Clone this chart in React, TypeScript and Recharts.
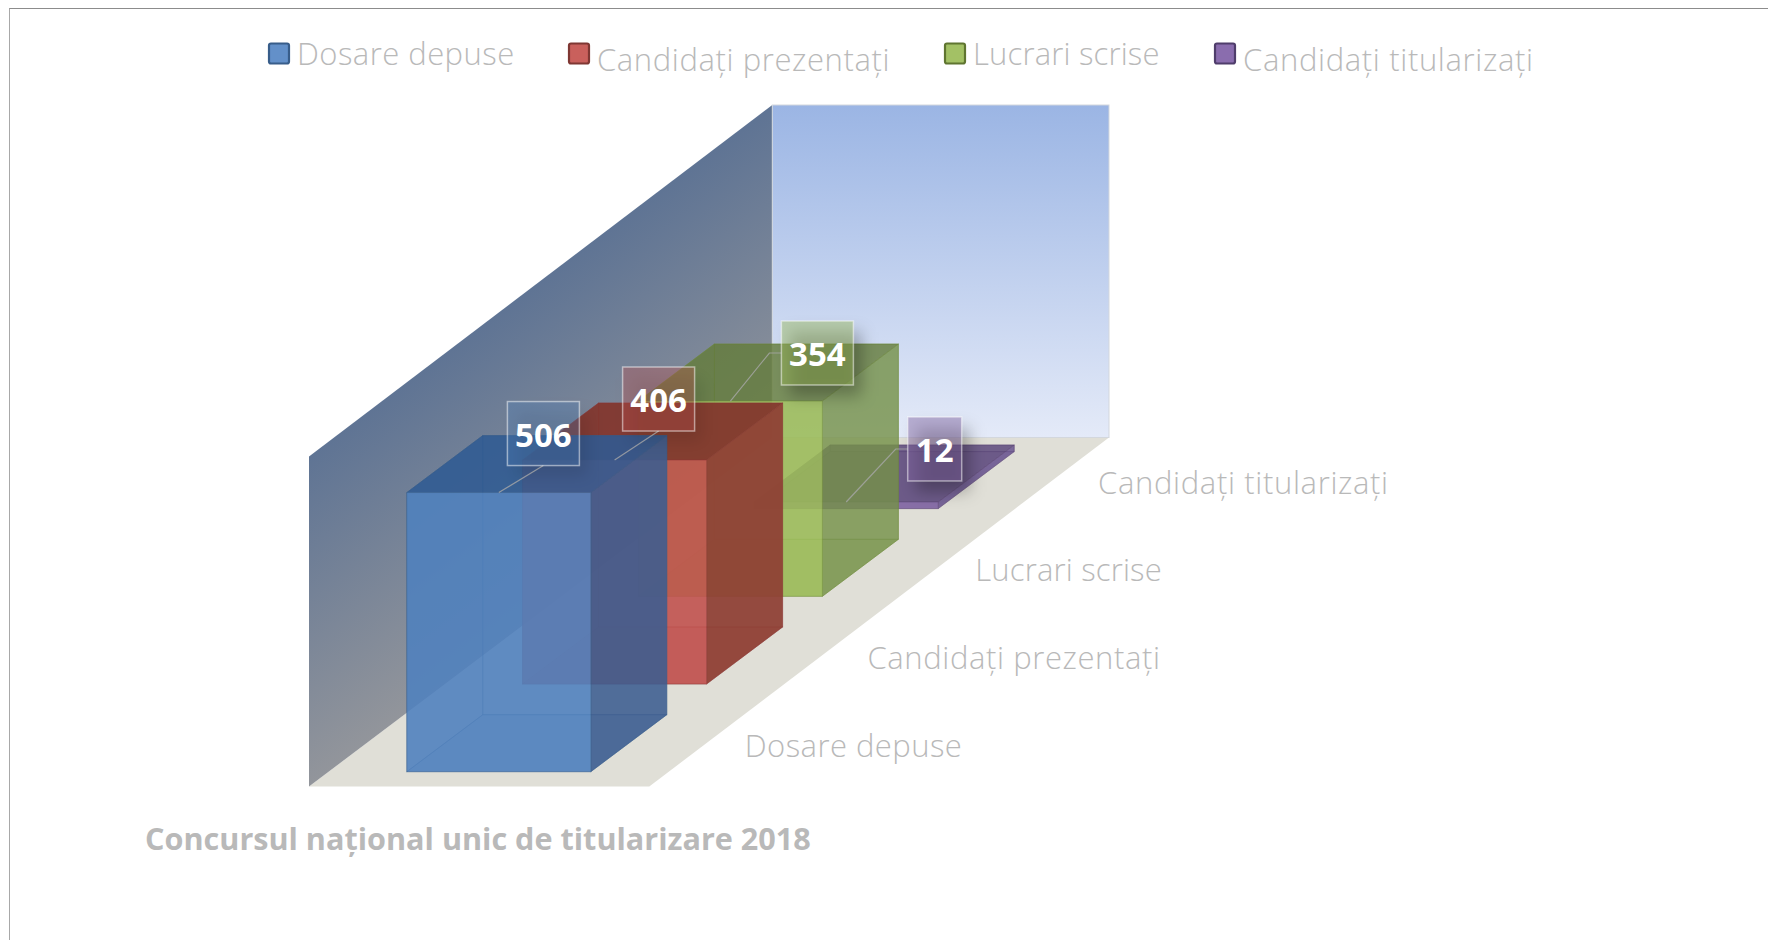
import React from "react";
import { BarChart, Bar, XAxis, YAxis, Legend, LabelList } from "recharts";

const categories = [
  "Dosare depuse",
  "Candidați prezentați",
  "Lucrari scrise",
  "Candidați titularizați",
];
const values = [506, 406, 354, 12];
const axisTitle = "Concursul național unic de titularizare 2018";

const frontColors = ["#4f81bd", "#c0504d", "#9bbb59", "#8064a2"];
const sideColors = ["#3b5c8f", "#8e3f34", "#738f48", "#65508c"];
const topColors = ["#2f5a92", "#82352c", "#627a38", "#574378"];
const edgeColors = ["#385d8a", "#8c3836", "#6f8a3a", "#5c4776"];
const swatchFill = ["#6390c9", "#c9605c", "#a3c165", "#8a6dae"];
const swatchStroke = ["#385d8a", "#7f3733", "#5f7530", "#4f3d6b"];
const labelFill = [
  "rgba(79,129,189,0.3)",
  "rgba(192,80,77,0.35)",
  "rgba(155,187,89,0.45)",
  "rgba(128,100,162,0.45)",
];
const sideAlpha = [0.86, 0.92, 0.78, 0.8];
const shadowAlpha = [0.1, 0.1, 0.28, 0.28];

const WIDTH = 1768;
const HEIGHT = 940;
const PLOT_LEFT = 440.8;
const PLOT_RIGHT = 904;
const PLOT_BOTTOM = 771.7;
const PLOT_TOP = 440.7;
const BOX_WIDTH = 184;
const DEPTH_X = 76;
const DEPTH_Y = 57;
const ROW_STEP_Y = 87.7;
const AXIS_HEIGHT = 30;
const FONT = '"Open Sans", sans-serif';
const TEXT_COLOR = "#b9b9b9";

// legend and label boxes are hand placed, like the office chart they come from
const LEGEND_X = [268, 568, 944, 1214];
const LEGEND_BASE = [65, 70.7, 65, 70.7];
const TEXT_SPACING = [0.45, 0.6, 0.17, 0.65];
const TICK_DX = [246, 253, 245, 252];
const LABEL_DX = [44.6, 44, 87, 88.5];
const LABEL_DY = [-59, -61, -48, -53];
const LABEL_W = [72, 72, 72, 54];
const LABEL_H = 64;

const tableData = categories
  .map((name, i) => ({ name, value: values[i] }))
  .reverse();

const pts = (list: number[][]) => list.map((p) => p.join(",")).join(" ");

function Box3D(props: any) {
  const i = categories.indexOf(props.payload.name);
  const cx = props.x + props.width / 2;
  const shift = i * ROW_STEP_Y;
  const x0 = cx - BOX_WIDTH / 2;
  const x1 = cx + BOX_WIDTH / 2;
  const y0 = props.y - shift;
  const y1 = props.y + props.height - shift;
  const dx = DEPTH_X;
  const dy = DEPTH_Y;
  const edge = { stroke: edgeColors[i], strokeWidth: 1, strokeOpacity: 0.4 };

  return (
    <g>
      <rect x={x0 + dx} y={y0 - dy} width={BOX_WIDTH} height={y1 - y0} fill={frontColors[i]} fillOpacity={0.14} {...edge} />
      <polygon points={pts([[x0, y0], [x0 + dx, y0 - dy], [x0 + dx, y1 - dy], [x0, y1]])} fill={frontColors[i]} fillOpacity={0.14} {...edge} />
      <polygon points={pts([[x0, y1], [x1, y1], [x1 + dx, y1 - dy], [x0 + dx, y1 - dy]])} fill={frontColors[i]} fillOpacity={0.35} {...edge} />
      <polygon points={pts([[x1, y0], [x1 + dx, y0 - dy], [x1 + dx, y1 - dy], [x1, y1]])} fill={sideColors[i]} fillOpacity={sideAlpha[i]} {...edge} />
      <polygon points={pts([[x0, y0], [x1, y0], [x1 + dx, y0 - dy], [x0 + dx, y0 - dy]])} fill={topColors[i]} fillOpacity={sideAlpha[i]} {...edge} />
      <rect x={x0} y={y0} width={BOX_WIDTH} height={y1 - y0} fill={frontColors[i]} fillOpacity={0.87} {...edge} />
    </g>
  );
}

function BoxLabel(props: any) {
  const i = categories.length - 1 - props.index;
  const vb = props.viewBox || {};
  const x = props.x ?? vb.x;
  const y = props.y ?? vb.y;
  const w = props.width ?? vb.width;
  const ax = x + w / 2;
  const ay = y - i * ROW_STEP_Y;
  const boxW = LABEL_W[i];
  const cx = ax + LABEL_DX[i];
  const cy = ay + LABEL_DY[i];
  const left = cx - boxW / 2;
  const top = cy - LABEL_H / 2;
  // the two rear labels sit to the side, so their leader gets an elbow
  const leader =
    i < 2
      ? [[ax, ay], [cx, top + LABEL_H]]
      : [[ax, ay], [left - 12, cy], [left, cy]];

  return (
    <g>
      <rect x={left + 8} y={top + 11} width={boxW} height={LABEL_H} fill="#000" fillOpacity={shadowAlpha[i]} filter="url(#labelShadow)" />
      <polyline points={pts(leader)} fill="none" stroke="#a8a8a8" strokeOpacity={0.8} strokeWidth={1.2} />
      <rect x={left} y={top} width={boxW} height={LABEL_H} fill={labelFill[i]} stroke="#ffffff" strokeOpacity={0.5} strokeWidth={1.5} />
      <text x={cx} y={cy + 13} textAnchor="middle" fill="#ffffff" fontFamily={FONT} fontWeight={700} fontSize={33}>
        {props.value}
      </text>
    </g>
  );
}

function RowTick(props: any) {
  const i = categories.indexOf(props.payload.value);
  return (
    <text
      x={props.x + TICK_DX[i]}
      y={PLOT_BOTTOM - 15 - i * ROW_STEP_Y}
      fill={TEXT_COLOR}
      fontFamily={FONT}
      fontWeight={300}
      fontSize={31}
      letterSpacing={TEXT_SPACING[i]}
    >
      {props.payload.value}
    </text>
  );
}

function SeriesLegend() {
  return (
    <svg width={WIDTH} height={100} style={{ display: "block" }}>
      {categories.map((name, i) => (
        <g key={name}>
          <rect
            x={LEGEND_X[i] + 1}
            y={43.5}
            width={20}
            height={20}
            rx={2}
            fill={swatchFill[i]}
            stroke={swatchStroke[i]}
            strokeWidth={2.2}
          />
          <text
            x={LEGEND_X[i] + 29}
            y={LEGEND_BASE[i]}
            fill={TEXT_COLOR}
            fontFamily={FONT}
            fontWeight={300}
            fontSize={31}
            letterSpacing={TEXT_SPACING[i]}
          >
            {name}
          </text>
        </g>
      ))}
    </svg>
  );
}

function Walls() {
  const fl = 309;
  const fb = 786.5;
  const fr = 649.3;
  const bl = 772.3;
  const br = 1109;
  const bb = 437.5;
  const backH = 332.5;
  const sideH = 330;
  return (
    <g>
      <defs>
        <linearGradient id="backWall" x1="0" y1="0" x2="0" y2="1">
          <stop offset="0%" stopColor="#9bb5e4" />
          <stop offset="100%" stopColor="#e4eaf8" />
        </linearGradient>
        <linearGradient id="sideWall" gradientUnits="userSpaceOnUse" x1={fl} y1={fb - sideH} x2={fl + 158} y2={fb - sideH + 210}>
          <stop offset="0%" stopColor="#5f7494" />
          <stop offset="100%" stopColor="#92959b" />
        </linearGradient>
        <filter id="labelShadow" x="-40%" y="-40%" width="180%" height="180%">
          <feGaussianBlur stdDeviation="8" />
        </filter>
      </defs>
      <polygon points={pts([[fl, fb], [fr, fb], [br, bb], [bl, bb]])} fill="#e0dfd7" />
      <polygon points={pts([[fl, fb], [fl, fb - sideH], [bl, bb - backH], [bl, bb]])} fill="url(#sideWall)" />
      <rect x={bl} y={bb - backH} width={br - bl} height={backH} fill="url(#backWall)" stroke="#d3d7dd" strokeWidth={1} />
      <text x={145} y={850} fill={TEXT_COLOR} fontFamily={FONT} fontWeight={700} fontSize={30.6}>
        {axisTitle}
      </text>
    </g>
  );
}

export default function App() {
  return (
    <div style={{ position: "absolute", left: 0, top: 0, width: WIDTH, height: HEIGHT, overflow: "hidden", background: "#fff" }}>
      <div
        style={{
          position: "absolute",
          left: 9,
          top: 8,
          width: WIDTH,
          height: HEIGHT,
          borderTop: "1.5px solid #8c8c8c",
          borderLeft: "1.5px solid #a8a8a8",
        }}
      />
      <BarChart
        width={WIDTH}
        height={HEIGHT}
        data={tableData}
        barCategoryGap={0}
        margin={{
          top: PLOT_TOP,
          left: PLOT_LEFT,
          right: WIDTH - PLOT_RIGHT,
          bottom: HEIGHT - PLOT_BOTTOM - AXIS_HEIGHT,
        }}
      >
        <Walls />
        <XAxis
          dataKey="name"
          reversed
          interval={0}
          height={AXIS_HEIGHT}
          axisLine={false}
          tickLine={false}
          tick={<RowTick />}
        />
        <YAxis hide domain={[0, 600]} />
        <Legend
          layout="horizontal"
          verticalAlign="middle"
          wrapperStyle={{ position: "absolute", left: 0, top: 0, width: WIDTH, height: 100 }}
          content={<SeriesLegend />}
        />
        <Bar dataKey="value" isAnimationActive={false} shape={<Box3D />}>
          <LabelList dataKey="value" content={<BoxLabel />} />
        </Bar>
      </BarChart>
    </div>
  );
}
